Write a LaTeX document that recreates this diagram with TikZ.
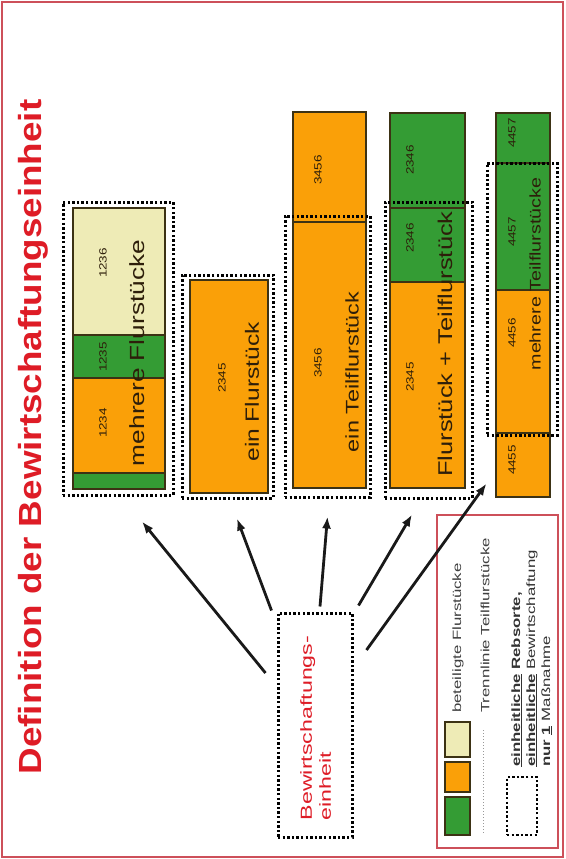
\documentclass[tikz,border=0pt]{standalone}
\usepackage{fontspec}
\setmainfont{Liberation Sans}
\usepackage{graphicx}
\usetikzlibrary{arrows.meta,calc}
\definecolor{cream}{RGB}{238,235,182}
\definecolor{grn}{RGB}{52,156,52}
\definecolor{org}{RGB}{250,160,8}
\definecolor{edge}{RGB}{60,50,20}
\definecolor{titlered}{RGB}{222,28,38}
\definecolor{framered}{RGB}{205,80,90}
\definecolor{txt}{RGB}{45,30,10}
\newcommand{\stre}[2]{\scalebox{#1}[1]{#2}}
\tikzset{
 seg/.style={draw=edge, line width=1.2pt},
 dotbox/.style={draw=black, line width=3pt, dash pattern=on 2.4pt off 2.2pt, rectangle, inner sep=0pt},
 num/.style={rotate=90, font=\fontsize{10.5}{12}\selectfont, text=txt, inner sep=0pt},
 lab/.style={rotate=90, text=txt, inner sep=0pt},
 arr/.style={-{Latex[length=12pt,width=9pt]}, line width=2.8pt, draw=black!90},
}
\begin{document}
\begin{tikzpicture}[x=1pt,y=-1pt]
\useasboundingbox (0,0) rectangle (565,859);
\fill[white] (0,0) rectangle (565,859);
\draw[framered, line width=1.6pt] (2,2) rectangle (563,857);

% title
\node[rotate=90, text=titlered, font=\fontsize{32}{36}\selectfont\bfseries, inner sep=0pt] (title) at (33,437) {\stre{1.15}{Definition der Bewirtschaftungseinheit}};

% column 1
\filldraw[seg,fill=cream] (73,208) rectangle (165,335);
\filldraw[seg,fill=grn] (73,335) rectangle (165,378);
\filldraw[seg,fill=org] (73,378) rectangle (165,473);
\filldraw[seg,fill=grn] (73,473) rectangle (165,489);
\node[dotbox, minimum width=110pt, minimum height=293pt] (col1) at (118,348.5) {};
\node[num] (n1236) at (103,263) {\stre{1.28}{1236}};
\node[num] (n1235) at (103,357) {\stre{1.28}{1235}};
\node[num] (n1234) at (103,423) {\stre{1.28}{1234}};
\node[lab, font=\fontsize{20.5}{24}\selectfont] (l1) at (137,353) {\stre{1.28}{mehrere Flurstücke}};

% column 2
\filldraw[seg,fill=org] (190,280) rectangle (268,493);
\node[dotbox, minimum width=91pt, minimum height=223pt] (col2) at (227.5,386.5) {};
\node[num] (n2345a) at (222,378) {\stre{1.28}{2345}};
\node[lab, font=\fontsize{19.2}{23}\selectfont] (l2) at (252,392) {\stre{1.28}{ein Flurstück}};

% column 3
\filldraw[seg,fill=org] (293,112) rectangle (366,488);
\draw[seg] (293,222) -- (366,222);
\node[dotbox, minimum width=85pt, minimum height=281pt] (col3) at (327.5,356.5) {};
\node[num] (n3456a) at (318,170) {\stre{1.28}{3456}};
\node[num] (n3456b) at (318,363) {\stre{1.28}{3456}};
\node[lab, font=\fontsize{18.3}{22}\selectfont] (l3) at (352,372) {\stre{1.28}{ein Teilflurstück}};

% column 4
\filldraw[seg,fill=grn] (390,113) rectangle (465,282);
\filldraw[seg,fill=org] (390,282) rectangle (465,488);
\draw[seg] (390,208) -- (465,208);
\node[dotbox, minimum width=87pt, minimum height=296pt] (col4) at (428.5,350) {};
\node[num] (n2346a) at (410,160) {\stre{1.28}{2346}};
\node[num] (n2346b) at (410,238) {\stre{1.28}{2346}};
\node[num] (n2345b) at (410,377) {\stre{1.28}{2345}};
\node[lab, font=\fontsize{19.9}{24}\selectfont] (l4) at (445,344) {\stre{1.28}{Flurstück + Teilflurstück}};

% column 5
\filldraw[seg,fill=grn] (496,113) rectangle (550,290);
\filldraw[seg,fill=org] (496,290) rectangle (550,497);
\draw[seg] (496,163) -- (550,163);
\draw[seg] (496,433) -- (550,433);
\node[dotbox, minimum width=70pt, minimum height=272pt] (col5) at (522,299) {};
\node[num] (n4457a) at (512,133) {\stre{1.28}{4457}};
\node[num] (n4457b) at (512,232) {\stre{1.28}{4457}};
\node[num] (n4456) at (512,333) {\stre{1.28}{4456}};
\node[num] (n4455) at (512,460) {\stre{1.28}{4455}};
\node[lab, font=\fontsize{15.4}{18}\selectfont] (l5) at (535,274) {\stre{1.28}{mehrere Teilflurstücke}};

% legend
\node[draw=framered, line width=1.2pt, fill=white, minimum width=121pt, minimum height=333pt, inner sep=0pt] (legend) at (497.5,681.5) {};
\filldraw[seg, fill=cream] (445,722) rectangle (470,757);
\filldraw[seg, fill=org] (445,762) rectangle (470,792);
\filldraw[seg, fill=grn] (445,797) rectangle (470,835);
\draw[draw=black!40, line width=1pt, dotted] (483,730) -- (483,833);
\node[dotbox, line width=2.4pt, minimum width=30pt, minimum height=58pt] (legdot) at (522,806) {};
\node[lab, anchor=west, font=\fontsize{12}{14}\selectfont, text=black!75] (leg1) at (458,713) {\stre{1.4}{beteiligte Flurstücke}};
\node[lab, anchor=west, font=\fontsize{12}{14}\selectfont, text=black!75] (leg2) at (485,713) {\stre{1.4}{Trennlinie Teilflurstücke}};
\node[lab, anchor=west, font=\fontsize{12}{15}\selectfont, text=black!80] (leg3) at (532,767)
  {\stre{1.4}{\begin{tabular}{@{}l@{}}\textbf{\underline{einheitliche} Rebsorte,}\\\textbf{\underline{einheitliche}} Bewirtschaftung\\\textbf{nur \underline{1}} Maßnahme\end{tabular}}};

% Bewirtschaftungseinheit
\node[dotbox, minimum width=74pt, minimum height=224pt] (bw) at (315,725) {};
\node[lab, text=titlered, font=\fontsize{16}{19}\selectfont] (bwtext) at (317.5,728)
  {\stre{1.45}{\begin{tabular}{@{}l@{}}Bewirtschaftungs-\\einheit\end{tabular}}};

% arrows
\draw[arr] ([shift={(-11,-52)}]bw.west) -- ([shift={(24,25)}]col1.south);
\draw[arr] ([shift={(-5,-1)}]bw.north west) -- ([shift={(9.5,19)}]col2.south);
\draw[arr] ([shift={(5,-5)}]bw.north) -- ([shift={(0,18)}]col3.south);
\draw[arr] ([shift={(5,-6)}]bw.north east) -- ([shift={(-16.5,15)}]col4.south);
\draw[arr] ([shift={(13,-75)}]bw.east) -- ([shift={(1,47)}]col5.south west);
\end{tikzpicture}
\end{document}
